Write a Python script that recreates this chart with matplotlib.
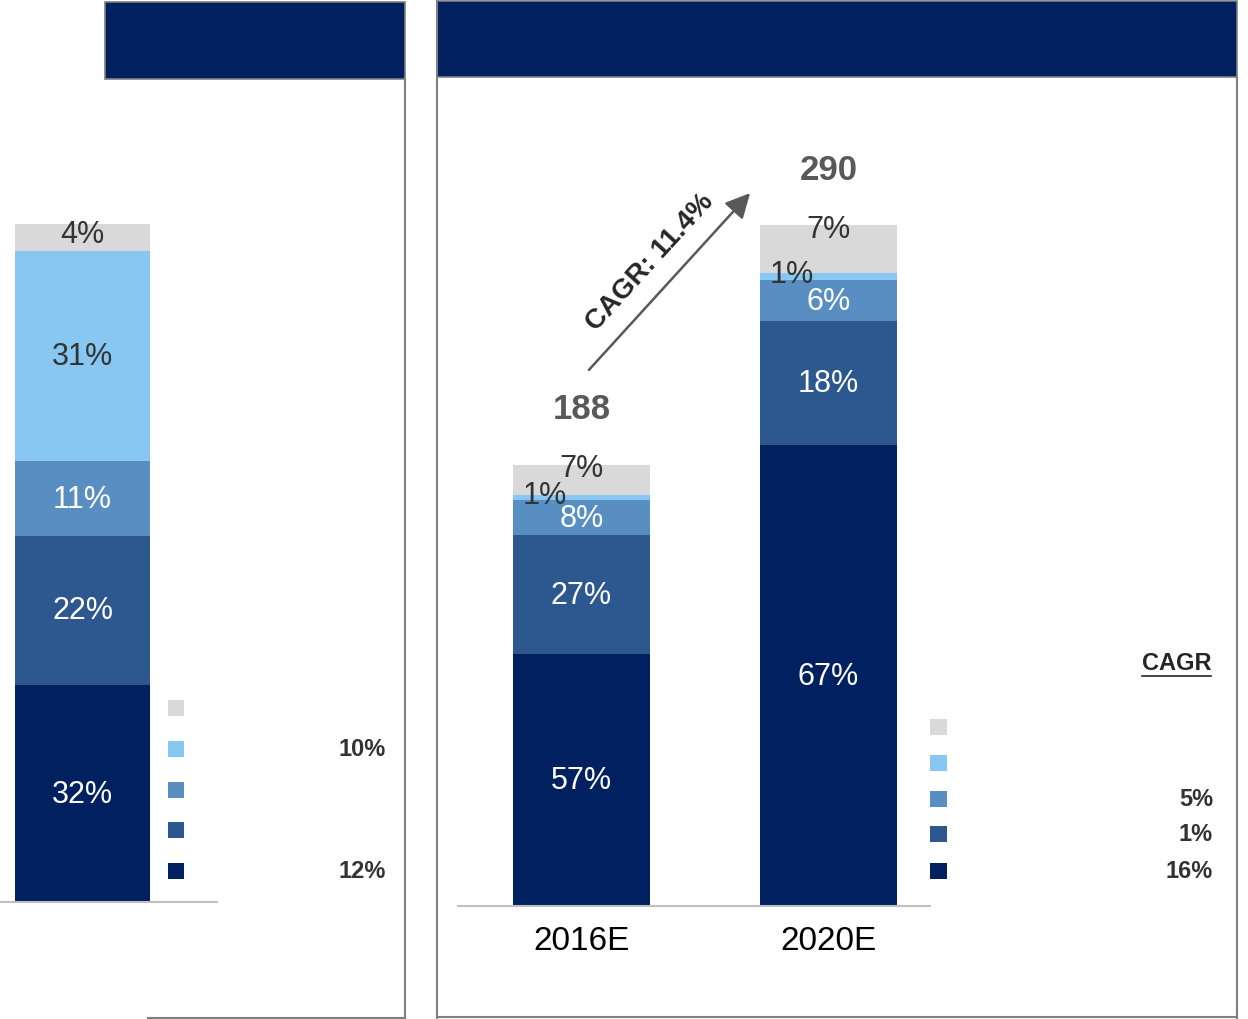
import matplotlib
matplotlib.use("Agg")
import matplotlib.pyplot as plt
from matplotlib.patches import Rectangle, FancyArrowPatch
from matplotlib.lines import Line2D

# ---------------- data ----------------
years = ["2016E", "2020E"]
totals = [188, 290]
# segment order bottom -> top: navy, dark blue, medium blue, light blue, grey
shares_2016 = [57, 27, 8, 1, 7]
shares_2020 = [67, 18, 6, 1, 7]
cagr_total = "CAGR: 11.4%"
cagr_right = ["", "", "5%", "1%", "16%"]      # legend rows top -> bottom: grey, light, medium, dark, navy

left_shares = [32, 22, 11, 31, 4]            # bottom -> top
cagr_left = ["", "10%", "", "", "12%"]

# ---------------- style ----------------
W, H = 1248, 1020
NAVY = "#00205F"
DARK = "#2C578F"
MED = "#588EC2"
LIGHT = "#87C7F2"
GREY = "#D9D9D9"
seg_colors = [NAVY, DARK, MED, LIGHT, GREY]
seg_text = ["white", "white", "white", "#333333", "#333333"]
FRAME = "#808080"
NARROW = ["Liberation Sans Narrow", "Liberation Sans", "DejaVu Sans"]
ARIAL = ["Liberation Sans", "DejaVu Sans"]

fig = plt.figure(figsize=(W / 100, H / 100), dpi=100)


def fx(x):
    return x / W


def fy(y):
    return 1 - y / H


def hline(x0, x1, y, color=FRAME, lw=1.5):
    fig.add_artist(Line2D([fx(x0), fx(x1)], [fy(y), fy(y)], color=color, lw=lw))


def vline(x, y0, y1, color=FRAME, lw=1.5):
    fig.add_artist(Line2D([fx(x), fx(x)], [fy(y0), fy(y1)], color=color, lw=lw))


def rect(x0, y0, x1, y1, fc, ec="none", lw=0):
    fig.add_artist(Rectangle((fx(x0), fy(y1)), fx(x1) - fx(x0), fy(y0) - fy(y1),
                             facecolor=fc, edgecolor=ec, lw=lw))


# ---------------- panel frames ----------------
rect(105, 3, 405, 80, NAVY, FRAME, 1.2)
vline(405, 80, 1019)
hline(148, 405, 1019)

rect(437, 2, 1237, 78, NAVY, FRAME, 1.2)
vline(437, 2, 1019)
vline(1237, 78, 1019)
hline(437, 1237, 1018)

# ---------------- right chart ----------------
kR = 681 / 290.0
axR = fig.add_axes([fx(458), fy(907), fx(930) - fx(458), (907 - 100) / H])
axR.set_xlim(-0.5, (930 - 581.5) / 247)
axR.set_ylim(0, (907 - 100) / kR)
bw = 137 / 247
for i, (tot, shares) in enumerate(zip(totals, [shares_2016, shares_2020])):
    s = sum(shares)
    bottom = 0
    for j, sh in enumerate(shares):
        h = tot * sh / s
        axR.bar(i, h, width=bw, bottom=bottom, color=seg_colors[j], edgecolor="none")
        if j == 4:
            ty, tx = bottom + h - 1.5, i
        elif j == 3:
            ty, tx = bottom + h / 2 + 1, i - 0.15
        else:
            ty, tx = bottom + h / 2, i
        axR.text(tx, ty, f"{sh}%", ha="center", va="center", fontsize=22,
                 color=seg_text[j], family=NARROW)
        bottom += h
    axR.annotate(f"{tot}", (i, tot), xytext=(0, 40), textcoords="offset points",
                 ha="center", va="center", fontsize=25, fontweight="bold",
                 color="#595959", family=NARROW)

for sp in ["top", "right", "left"]:
    axR.spines[sp].set_visible(False)
axR.spines["bottom"].set_color("#BFBFBF")
axR.spines["bottom"].set_linewidth(1.5)
axR.set_yticks([])
axR.set_xticks([0, 1], years, fontsize=24, family=NARROW, color="black")
axR.tick_params(axis="x", length=0, pad=14)
axR.patch.set_visible(False)

# CAGR arrow
fig.add_artist(FancyArrowPatch(
    (fx(587), fy(373)), (fx(752), fy(192)), transform=fig.transFigure,
    arrowstyle="-|>,head_length=10,head_width=5", color="#595959", lw=1.8,
    mutation_scale=1.5))
fig.text(fx(650), fy(262), cagr_total, rotation=47.6, ha="center", va="center",
         fontsize=20, fontweight="bold", color="#262626", family=ARIAL,
         rotation_mode="anchor")

# right legend
rowsR = [728, 764, 800, 835, 872]
for c, y, v in zip([GREY, LIGHT, MED, DARK, NAVY], rowsR, cagr_right):
    rect(930, y - 8, 947, y + 8, c)
    if v:
        fig.text(fx(1213), fy(y), v, ha="right", va="center", fontsize=17,
                 fontweight="bold", color="#333333", family=ARIAL)
fig.text(fx(1177), fy(663), "CAGR", ha="center", va="center", fontsize=17,
         fontweight="bold", color="#262626", family=ARIAL)
hline(1142, 1211, 677, color="#262626", lw=1.2)

# ---------------- left chart ----------------
kL = 678 / 100.0
axL = fig.add_axes([0, fy(903), fx(217), (903 - 100) / H])
axL.set_xlim(-82.5 / 247, (217 - 82.5) / 247)
axL.set_ylim(0, (903 - 100) / kL)
bwL = 135 / 247
bottom = 0
for j, sh in enumerate(left_shares):
    axL.bar(0, sh, width=bwL, bottom=bottom, color=seg_colors[j], edgecolor="none")
    ty = bottom + sh - 1.5 if j == 4 else bottom + sh / 2
    axL.text(0, ty, f"{sh}%", ha="center", va="center", fontsize=22,
             color=seg_text[j], family=NARROW)
    bottom += sh
for sp in ["top", "right", "left"]:
    axL.spines[sp].set_visible(False)
axL.spines["bottom"].set_color("#BFBFBF")
axL.spines["bottom"].set_linewidth(1.5)
axL.set_xticks([])
axL.set_yticks([])
axL.patch.set_visible(False)

# left legend
rowsL = [709, 750, 791, 831, 872]
for c, y, v in zip([GREY, LIGHT, MED, DARK, NAVY], rowsL, cagr_left):
    rect(168, y - 8, 184, y + 8, c)
    if v:
        fig.text(fx(386), fy(y), v, ha="right", va="center", fontsize=17,
                 fontweight="bold", color="#333333", family=ARIAL)

fig.savefig("out.png", dpi=100)
